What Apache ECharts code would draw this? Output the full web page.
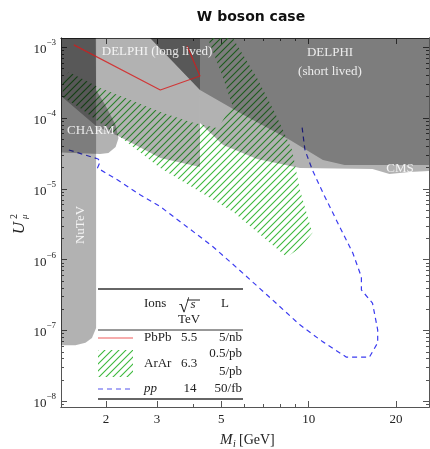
<!DOCTYPE html>
<html lang="en">
<head>
<meta charset="UTF-8">
<title>W boson case</title>
<script src="https://cdn.jsdelivr.net/npm/echarts@6/dist/echarts.min.js"></script>
<style>
  html, body { margin: 0; padding: 0; background: #fff; }
  #main { width: 430px; height: 449px; }
</style>
</head>
<body>
<div id="main"></div>
<script>
// axis ranges (M in GeV, U^2)
var massRange = [1.4, 26];
var u2Range = [8.3e-9, 1.35e-3];
var massTicks = [2, 3, 5, 10, 20];
var massMinorTicks = [4, 6, 7, 8, 9];
var u2Ticks = [1e-8, 1e-7, 1e-6, 1e-5, 1e-4, 1e-3];

// excluded regions, [M, U^2] outlines
var nutevRegion = [[1.3, 2e-3], [1.85, 2e-3], [1.85, 1.08e-7], [1.79, 7.8e-8], [1.70, 6.7e-8], [1.57, 6.2e-8], [1.3, 6.2e-8]];
var charmRegion = [[1.3, 2e-3], [1.84, 2e-3], [1.85, 2.49e-4], [1.99, 1.53e-4], [2.16, 8.0e-5], [2.21, 5.2e-5], [2.16, 3.9e-5], [2.04, 3.2e-5], [1.91, 3.1e-5], [1.3, 3.3e-5]];
var delphiLongRegion = [[1.3, 2e-3], [4.22, 2e-3], [4.22, 2.04e-5], [3.08, 2.73e-5], [2.24, 5.4e-5], [1.85, 7.7e-5], [1.41, 2.0e-4], [1.3, 2.5e-4]];
var delphiShortRegion = [[2.6, 2e-3], [2.84, 1.35e-3], [4.22, 2.49e-4], [5.80, 1.18e-4], [8.62, 4.9e-5], [11.2, 2.56e-5], [13.3, 2.18e-5], [30, 2.18e-5], [30, 2e-3]];
var cmsRegion = [[30, 2e-3], [2.6, 2e-3], [2.84, 1.35e-3], [4.22, 2.49e-4], [4.22, 8.5e-5], [5.07, 4.17e-5], [6.64, 2.64e-5], [9.33, 1.97e-5], [16.6, 1.91e-5], [19.0, 1.62e-5], [22.3, 1.73e-5], [30, 1.85e-5]];

// sensitivities
var pbpbLine = [[1.55, 1.08e-3], [3.08, 2.49e-4], [4.22, 3.93e-4], [3.81, 1.04e-3]];
var ararRegion = [[1.42, 3.45e-4], [1.49, 4.48e-4], [1.91, 2.66e-4], [2.43, 1.80e-4], [3.08, 1.22e-4], [3.91, 8.8e-5], [4.87, 7.2e-5], [5.45, 1.53e-4], [5.03, 4.06e-4], [4.47, 1.4e-3], [5.45, 1.4e-3], [6.64, 3.68e-4], [7.66, 1.18e-4], [8.77, 3.54e-5], [9.33, 9.7e-6], [10.3, 2.38e-6], [9.33, 1.46e-6], [8.41, 1.09e-6], [5.50, 4.7e-6], [3.81, 1.17e-5], [3.08, 1.97e-5], [2.24, 5.4e-5], [1.91, 8.5e-5], [1.63, 1.39e-4], [1.42, 1.99e-4]];
var ppLine = [[1.49, 3.54e-5], [1.88, 2.64e-5], [1.91, 2.40e-5], [1.87, 1.97e-5], [2.19, 1.34e-5], [2.63, 8.2e-6], [3.08, 5.6e-6], [3.81, 2.90e-6], [4.69, 1.51e-6], [5.67, 7.6e-7], [7.19, 3.17e-7], [9.33, 1.20e-7], [11.2, 6.9e-8], [13.5, 4.2e-8], [16.2, 4.2e-8], [17.3, 6.7e-8], [17.3, 1.02e-7], [16.6, 2.44e-7], [15.2, 3.73e-7], [15.2, 5.7e-7], [14.2, 1.24e-6], [12.8, 2.90e-6], [11.2, 8.8e-6], [10.3, 1.85e-5], [9.71, 3.54e-5], [9.49, 7.5e-5]];

var serif = '"Liberation Serif", "DejaVu Serif", serif';
var gray = 'rgba(0,0,0,0.3)';

function lg(arr) {
    return arr.map(function (v) { return Math.log10(v); });
}
function lgPts(pts) {
    return pts.map(function (p) { return [Math.log10(p[0]), Math.log10(p[1])]; });
}

// minor ticks of the log U^2 axis: 2..9 x 10^n
var u2MinorTicks = [];
u2Ticks.concat([1e-9]).forEach(function (d) {
    for (var k = 2; k <= 9; k++) {
        var v = k * d;
        if (v > u2Range[0] && v < u2Range[1]) u2MinorTicks.push(v);
    }
});

function hatchCanvas(color) {
    var c = document.createElement('canvas');
    c.width = 7; c.height = 7;
    var g = c.getContext('2d');
    g.strokeStyle = color;
    g.lineWidth = 1.1;
    g.beginPath();
    g.moveTo(-1, 8); g.lineTo(8, -1);
    g.moveTo(-1, 1); g.lineTo(1, -1);
    g.moveTo(6, 8); g.lineTo(8, 6);
    g.stroke();
    return c;
}
var hatch = hatchCanvas('rgb(60,185,60)');

function region(name, pts, fill, z) {
    var data = lgPts(pts);
    return {
        type: 'custom', name: name, z: z, clip: true, silent: true,
        data: [[1, -5]],
        renderItem: function (params, api) {
            return {
                type: 'polygon',
                shape: { points: data.map(function (p) { return api.coord(p); }) },
                style: { fill: fill }
            };
        }
    };
}

function xAxisDef(pos, ticks, len, withLabel) {
    return {
        type: 'value', position: pos,
        min: Math.log10(massRange[0]), max: Math.log10(massRange[1]),
        axisLine: { show: true, onZero: false, lineStyle: { color: '#555', width: 1 } },
        splitLine: { show: false },
        axisTick: { show: true, inside: true, length: len, customValues: lg(ticks), lineStyle: { color: '#555' } },
        axisLabel: withLabel ? {
            show: true, customValues: lg(ticks), margin: 6,
            fontFamily: serif, fontSize: 13, color: '#222',
            formatter: function (v) { return String(Math.round(Math.pow(10, v))); }
        } : { show: false }
    };
}
function yAxisDef(pos, ticks, len, withLabel) {
    return {
        type: 'value', position: pos,
        min: Math.log10(u2Range[0]), max: Math.log10(u2Range[1]),
        axisLine: { show: true, onZero: false, lineStyle: { color: '#555', width: 1 } },
        splitLine: { show: false },
        axisTick: { show: true, inside: true, length: len, customValues: lg(ticks), lineStyle: { color: '#555' } },
        axisLabel: withLabel ? {
            show: true, customValues: lg(ticks), margin: 5,
            formatter: function (v) { return '{b|10}{e|\u2212' + Math.round(-v) + '}'; },
            rich: {
                b: { fontFamily: serif, fontSize: 13, color: '#222', verticalAlign: 'bottom', lineHeight: 18 },
                e: { fontFamily: serif, fontSize: 9, color: '#222', verticalAlign: 'top', lineHeight: 10 }
            }
        } : { show: false }
    };
}

function txt(x, y, s, opt) {
    opt = opt || {};
    return {
        type: 'text', x: x, y: y, z: 100, rotation: opt.rot || 0, silent: true,
        style: {
            text: s, fill: opt.color || '#222',
            font: (opt.style || '') + ' ' + (opt.size || 13) + 'px ' + serif,
            align: opt.align || 'center', verticalAlign: 'middle'
        }
    };
}
function rule(x1, x2, y, w) {
    return { type: 'line', z: 100, silent: true, shape: { x1: x1, y1: y, x2: x2, y2: y }, style: { stroke: '#333', lineWidth: w } };
}

var labelColor = 'rgba(255,255,255,0.85)';

var chart = echarts.init(document.getElementById('main'));
chart.setOption({
    animation: false,
    title: {
        text: 'W boson case', left: 246, top: 5, textAlign: 'center',
        textStyle: { fontFamily: '"DejaVu Sans", sans-serif', fontWeight: 'bold', fontSize: 14, color: '#111' }
    },
    grid: { left: 61, right: 1, top: 38, bottom: 42 },
    xAxis: [
        xAxisDef('bottom', massTicks, 6, true),
        xAxisDef('bottom', massMinorTicks, 3, false),
        xAxisDef('top', massTicks, 6, false),
        xAxisDef('top', massMinorTicks, 3, false)
    ],
    yAxis: [
        yAxisDef('left', u2Ticks, 6, true),
        yAxisDef('left', u2MinorTicks, 3, false),
        yAxisDef('right', u2Ticks, 6, false),
        yAxisDef('right', u2MinorTicks, 3, false)
    ],
    series: [
        region('ArAr', ararRegion, { image: hatch, repeat: 'repeat' }, 1),
        {
            type: 'line', name: 'pp', z: 2, silent: true, showSymbol: false,
            data: lgPts(ppLine),
            lineStyle: { color: '#3b3bf0', width: 1.2, type: [5, 4] }
        },
        region('NuTeV', nutevRegion, gray, 3),
        region('CHARM', charmRegion, gray, 3),
        region('DELPHI long lived', delphiLongRegion, gray, 3),
        region('DELPHI short lived', delphiShortRegion, gray, 3),
        region('CMS', cmsRegion, gray, 3),
        {
            type: 'line', name: 'PbPb', z: 5, silent: true, showSymbol: false,
            data: lgPts(pbpbLine),
            lineStyle: { color: 'rgba(215,25,25,0.8)', width: 1.2 }
        }
    ],
    graphic: [
        // region labels
        txt(157, 52, 'DELPHI (long lived)', { color: labelColor }),
        txt(330, 53, 'DELPHI', { color: labelColor }),
        txt(330, 72, '(short lived)', { color: labelColor }),
        txt(67, 131, 'CHARM', { color: labelColor, align: 'left' }),
        txt(81, 225, 'NuTeV', { color: labelColor, rot: Math.PI / 2 }),
        txt(400, 169, 'CMS', { color: labelColor }),
        // axis names
        {
            type: 'group', x: 20, y: 224, rotation: Math.PI / 2, z: 100,
            children: [
                txt(-4, 0, 'U', { style: 'italic', size: 17 }),
                txt(5, -6, '2', { size: 10, align: 'left' }),
                txt(5, 5, '\u03bc', { style: 'italic', size: 9, align: 'left' })
            ]
        },
        txt(220, 440, 'M', { style: 'italic', size: 15, align: 'left' }),
        txt(233, 444, 'i', { style: 'italic', size: 10, align: 'left' }),
        txt(239, 440, '[GeV]', { size: 14, align: 'left' }),
        // legend table
        rule(98, 243, 289, 1.5),
        rule(98, 243, 330, 1),
        rule(98, 243, 399, 1.5),
        txt(144, 304, 'Ions', { align: 'left' }),
        txt(184, 307, '\u221a', { size: 19 }),
        txt(193, 305, 's', { style: 'italic' }),
        { type: 'line', z: 100, shape: { x1: 187, y1: 300, x2: 200, y2: 300 }, style: { stroke: '#222', lineWidth: 1 } },
        txt(189, 320, 'TeV'),
        txt(225, 304, 'L'),
        { type: 'line', z: 100, shape: { x1: 98, y1: 338, x2: 133, y2: 338 }, style: { stroke: '#ee5a5a', lineWidth: 1.2 } },
        txt(144, 338, 'PbPb', { align: 'left' }),
        txt(189, 338, '5.5'),
        txt(242, 338, '5/nb', { align: 'right' }),
        { type: 'rect', z: 100, shape: { x: 98, y: 350, width: 35, height: 27 }, style: { fill: { image: hatch, repeat: 'repeat' } } },
        txt(144, 364, 'ArAr', { align: 'left' }),
        txt(189, 364, '6.3'),
        txt(242, 354, '0.5/pb', { align: 'right' }),
        txt(242, 372, '5/pb', { align: 'right' }),
        { type: 'line', z: 100, shape: { x1: 98, y1: 389, x2: 133, y2: 389 }, style: { stroke: '#5555ee', lineWidth: 1.2, lineDash: [5, 4] } },
        txt(144, 389, 'pp', { style: 'italic', align: 'left' }),
        txt(190, 389, '14'),
        txt(242, 389, '50/fb', { align: 'right' })
    ]
});
</script>
</body>
</html>
